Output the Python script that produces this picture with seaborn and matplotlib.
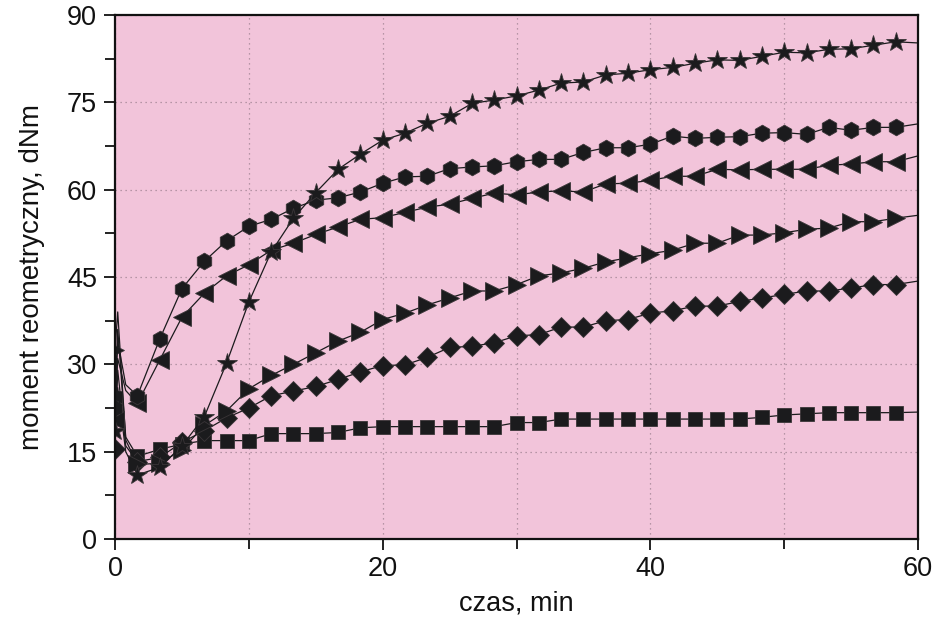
import matplotlib
matplotlib.use("Agg")
import matplotlib.pyplot as plt
import seaborn as sns
import pandas as pd
from matplotlib.ticker import MultipleLocator, FixedLocator
from matplotlib import font_manager

# ---------------- data ----------------
# marker times (min)
t_mark = [0.0, 1.67, 3.33, 5.0, 6.67, 8.33, 10.0, 11.67, 13.33, 15.0, 16.67, 18.33,
          20.0, 21.67, 23.33, 25.0, 26.67, 28.33, 30.0, 31.67, 33.33, 35.0, 36.67, 38.33,
          40.0, 41.67, 43.33, 45.0, 46.67, 48.33, 50.0, 51.67, 53.33, 55.0, 56.67, 58.33]
# early spike times of the raw curves and the final time
t_spike = [0.2, 0.8]
t_end = 60.0

star_v = [18.5, 11.0, 12.3, 16.0, 21.0, 30.2, 40.7, 49.3, 55.1, 59.5, 63.5, 66.1,
          68.5, 69.7, 71.4, 72.6, 74.8, 75.4, 76.1, 77.1, 78.3, 78.5, 79.7, 80.0,
          80.6, 81.0, 81.7, 82.3, 82.2, 82.9, 83.6, 83.5, 84.1, 84.2, 84.8, 85.4]
hex_v = [22.5, 24.6, 34.3, 43.0, 47.7, 51.2, 53.7, 54.9, 56.8, 58.2, 58.6, 59.6,
         61.1, 62.2, 62.3, 63.6, 63.9, 64.1, 64.8, 65.2, 65.2, 66.4, 67.2, 67.2,
         67.8, 69.2, 68.8, 69.0, 69.1, 69.7, 69.8, 69.5, 70.7, 70.2, 70.7, 70.7]
ltri_v = [20.5, 23.3, 30.7, 38.1, 42.2, 45.2, 47.1, 49.6, 50.8, 52.3, 53.6, 54.9,
          55.2, 56.1, 57.0, 57.5, 58.5, 59.4, 59.1, 59.6, 59.8, 59.6, 61.0, 61.1,
          61.6, 62.3, 62.3, 63.5, 63.4, 63.5, 63.5, 63.5, 64.2, 64.4, 64.8, 64.8]
rtri_v = [32.5, 12.8, 13.0, 15.3, 19.5, 22.0, 25.8, 28.1, 30.0, 32.0, 34.0, 35.5,
          37.7, 38.8, 40.2, 41.4, 42.6, 42.6, 43.7, 45.2, 45.7, 46.5, 47.6, 48.3,
          49.0, 49.6, 50.8, 50.8, 52.2, 52.2, 52.6, 53.2, 53.4, 54.5, 54.5, 55.1]
diam_v = [15.4, 13.3, 14.0, 16.6, 18.6, 20.8, 22.5, 24.6, 25.4, 26.2, 27.4, 28.7,
          29.8, 29.9, 31.2, 32.9, 33.1, 33.7, 34.9, 35.1, 36.4, 36.4, 37.5, 37.7,
          38.8, 39.2, 40.0, 40.0, 40.8, 41.4, 42.0, 42.6, 42.6, 43.1, 43.7, 43.7]
sq_v = [24.3, 14.2, 15.4, 16.3, 16.9, 16.9, 16.9, 18.1, 18.1, 18.1, 18.3, 19.1,
        19.3, 19.3, 19.3, 19.3, 19.3, 19.3, 20.0, 20.0, 20.6, 20.6, 20.6, 20.6,
        20.6, 20.6, 20.6, 20.6, 20.6, 20.9, 21.3, 21.5, 21.7, 21.7, 21.7, 21.7]

# spike values (at t_spike) and end values (at t_end)
star_spike, star_end = [26.0, 15.0], 85.2
hex_spike, hex_end = [34.0, 26.5], 71.3
ltri_spike, ltri_end = [31.0, 25.5], 65.8
rtri_spike, rtri_end = [39.0, 17.0], 55.6
diam_spike, diam_end = [29.0, 16.0], 44.3
sq_spike, sq_end = [36.0, 17.5], 21.8

y_ticks = [0, 15, 30, 45, 60, 75, 90]
x_ticks = [0, 20, 40, 60]

# ---------------- style ----------------
sns.set_style("ticks")
names = {f.name for f in font_manager.fontManager.ttflist}
base_font = "Liberation Sans" if "Liberation Sans" in names else "DejaVu Sans"
plt.rcParams["font.family"] = [base_font, "DejaVu Sans"]

ink = "#1b1b1d"
fig = plt.figure(figsize=(9.33, 6.17), dpi=100)
ax = fig.add_axes([0.1233, 0.1264, 0.8606, 0.8493])
ax.set_facecolor("#F2C4DA")

series = [
    (sq_v, sq_spike, sq_end, "s", 10.0),
    (diam_v, diam_spike, diam_end, "D", 10.0),
    (rtri_v, rtri_spike, rtri_end, ">", 12.5),
    (ltri_v, ltri_spike, ltri_end, "<", 12.5),
    (hex_v, hex_spike, hex_end, "h", 12.0),
    (star_v, star_spike, star_end, "*", 14.5),
]

for vals, spike, vend, mk, ms in series:
    t_line = [t_mark[0]] + t_spike + t_mark[1:] + [t_end]
    v_line = [vals[0]] + spike + vals[1:] + [vend]
    idx = [0] + list(range(len(t_spike) + 1, len(t_spike) + len(t_mark)))
    df = pd.DataFrame({"t": t_line, "v": v_line})
    sns.lineplot(data=df, x="t", y="v", ax=ax, estimator=None, sort=False,
                 color=ink, linewidth=0.9, marker=mk, markersize=ms,
                 markevery=idx, markerfacecolor=ink, markeredgecolor="#3a3538",
                 markeredgewidth=0.6, clip_on=True, zorder=3)

ax.set_xlim(0, 60)
ax.set_ylim(0, 90)
ax.xaxis.set_major_locator(FixedLocator(x_ticks))
ax.xaxis.set_minor_locator(FixedLocator([10, 30, 50]))
ax.yaxis.set_major_locator(FixedLocator(y_ticks))
ax.yaxis.set_minor_locator(MultipleLocator(7.5))

ax.grid(True, which="both", axis="x", linestyle=(0, (1, 3)), color="#a38596", linewidth=0.9)
ax.grid(True, which="major", axis="y", linestyle=(0, (1, 3)), color="#a38596", linewidth=0.9)
ax.set_axisbelow(True)

for sp in ax.spines.values():
    sp.set_visible(True)
    sp.set_color("#111111")
    sp.set_linewidth(1.6)
    sp.set_zorder(5)

ax.tick_params(axis="both", which="major", direction="out", length=8, width=1.3,
               color="#111111", labelcolor="#111111")
ax.tick_params(axis="both", which="minor", direction="out", length=7, width=1.3,
               color="#111111")
ax.tick_params(axis="y", which="major", labelsize=19.5, pad=5)
ax.tick_params(axis="x", which="major", labelsize=19.5, pad=4)

ax.set_xlabel("czas, min", fontsize=19.5, labelpad=6, color="#111111")
ax.set_ylabel("moment reometryczny, dNm", fontsize=20, labelpad=16, color="#111111")

fig.savefig("out.png", dpi=100, facecolor="white")
